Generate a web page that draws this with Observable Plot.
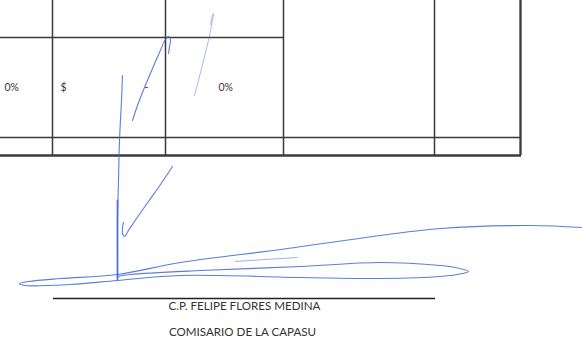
<!DOCTYPE html>
<html>
<head>
<meta charset="utf-8">
<script src="https://cdn.jsdelivr.net/npm/d3@7"></script>
<script src="https://cdn.jsdelivr.net/npm/@observablehq/plot@0.6"></script>
<style>
  html, body { margin: 0; padding: 0; background: #fff; }
  #chart svg { display: block; }
</style>
</head>
<body>
<div id="chart"></div>
<script>
// ---- table grid (page coordinates) ----
const colX = [52, 165, 283, 434];
const colTop = [0, 0, 0, 0];
const colBottom = [155, 155, 155, 155];
const borderX = [520];
const rowY = [37, 137];
const rowX1 = [0, 0];
const rowX2 = [283, 520];
const bottomY = [155];

// ---- cell texts ----
const cellText = ["0%", "$", "-", "0%"];
const cellX = [4, 60, 144, 218];
const cellY = [87, 87, 87, 87];

// ---- signature caption ----
const sigLineX = [53, 435];
const sigLineY = [298];
const captionLines = ["C.P. FELIPE FLORES MEDINA", "COMISARIO DE LA CAPASU"];
const captionY = [306, 332];
const captionX = [244, 242];

// ---- signature strokes ----
const strokeVertical = [[122,75],[121,100],[119,140],[118,180],[117,220],[117,255],[117,279]];
const strokeVerticalBold = [[117,200],[117,240],[117,279]];
const strokeUpper = [[132,120],[137,105],[144,87],[152,68],[159,52],[165,39],[168,36],[170,39],[169,46],[168,53]];
const strokeFaint = [[194,95],[198,80],[203,60],[208,40],[211,25],[213,13],[211,18],[210,24]];
const strokeLower = [[172,166],[160,184],[148,201],[136,218],[128,230],[124,236],[122,233],[122,227],[123,222]];
const strokeLong = [[582,227],[530,225],[440,228],[380,235],[280,249],[180,262],[117,274],[60,278],[28,281],[19,283],[25,285],[70,284],[117,280],[180,275],[300,277],[380,278],[440,276],[462,273],[468,271],[455,267],[440,265],[380,262],[300,266],[200,270],[130,274],[117,276]];
const strokeDash = [[235,261],[265,259],[297,257]];

const toRows = (pts, id) => pts.map(([x, y]) => ({x, y, id}));
const sigMain = [
  ...toRows(strokeVertical, "v"),
  ...toRows(strokeUpper, "u"),
  ...toRows(strokeLower, "l"),
  ...toRows(strokeLong, "h")
];

const cols = colX.map((x, i) => ({x, y1: colTop[i], y2: colBottom[i]}));
const rows = rowY.map((y, i) => ({y, x1: rowX1[i], x2: rowX2[i]}));
const cells = cellText.map((t, i) => ({t, x: cellX[i], y: cellY[i]}));
const caps = captionLines.map((t, i) => ({t, x: captionX[i], y: captionY[i]}));

const ink = "#3a3a3a";
const blue = "#3f66d6";

const chart = Plot.plot({
  width: 582,
  height: 343,
  margin: 0,
  x: {domain: [0, 582], axis: null},
  y: {domain: [343, 0], axis: null},
  style: {background: "#fff"},
  marks: [
    Plot.ruleX(cols, {x: "x", y1: "y1", y2: "y2", stroke: ink, strokeWidth: 1.5}),
    Plot.ruleX(borderX, {x: d => d, y1: 0, y2: 155, stroke: ink, strokeWidth: 2.3}),
    Plot.ruleY(rows, {y: "y", x1: "x1", x2: "x2", stroke: ink, strokeWidth: 1.5}),
    Plot.ruleY(bottomY, {y: d => d, x1: 0, x2: 521, stroke: ink, strokeWidth: 2.5}),
    Plot.text(cells, {x: "x", y: "y", text: "t", textAnchor: "start", fontSize: 10.5, fill: "#333", fontFamily: "Lato"}),
    Plot.ruleY(sigLineY, {y: d => d, x1: sigLineX[0], x2: sigLineX[1], stroke: "#222", strokeWidth: 1.5}),
    Plot.text(caps, {x: "x", y: "y", text: "t", fontSize: 11.6, fill: "#333", fontFamily: "Lato"}),
    Plot.line(toRows(strokeFaint, "f"), {x: "x", y: "y", stroke: blue, strokeWidth: 1, strokeOpacity: 0.45, curve: "catmull-rom"}),
    Plot.line(toRows(strokeDash, "d"), {x: "x", y: "y", stroke: blue, strokeWidth: 1, strokeOpacity: 0.5}),
    Plot.line(sigMain, {x: "x", y: "y", z: "id", stroke: blue, strokeWidth: 1.1, strokeOpacity: 0.85, curve: "catmull-rom"}),
    Plot.line(toRows(strokeVerticalBold, "vb"), {x: "x", y: "y", stroke: blue, strokeWidth: 1.8, strokeOpacity: 0.8})
  ]
});
document.getElementById("chart").appendChild(chart);
</script>
</body>
</html>
